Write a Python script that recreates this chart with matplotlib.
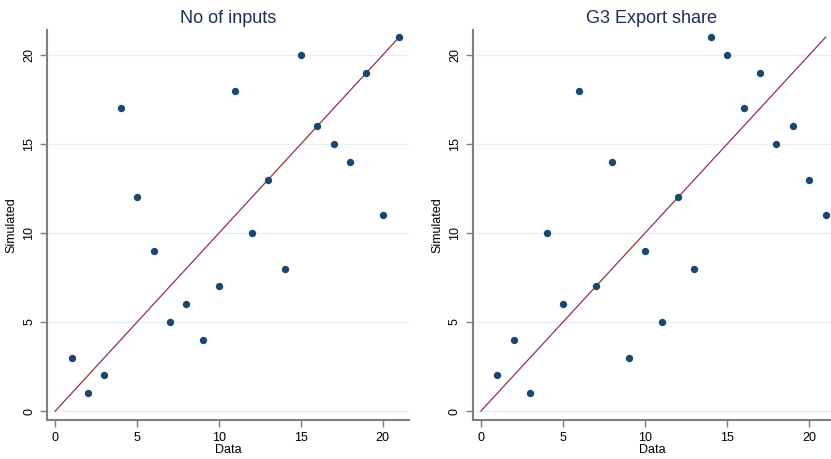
import matplotlib
matplotlib.use("Agg")
from matplotlib import pyplot as plt

plt.rcParams['font.family'] = ['Liberation Sans', 'DejaVu Sans']

# data (rank of data vs rank of simulated)
data_rank = list(range(1, 22))
sim_inputs = [3, 1, 2, 17, 12, 9, 5, 6, 4, 7, 18, 10, 13, 8, 20, 16, 15, 14, 19, 11, 21]
sim_g3 = [2, 4, 1, 10, 6, 18, 7, 14, 3, 9, 5, 12, 8, 21, 20, 17, 19, 15, 16, 13, 11]
titles = ['No of inputs', 'G3 Export share']
ticks = [0, 5, 10, 15, 20]

navy = '#1a476f'
maroon = '#90353b'
grey = '#7f7f7f'

fig = plt.figure(figsize=(8.31, 4.59), dpi=100)
ax1 = fig.add_axes([0.0566, 0.085, 0.4356, 0.8497])
ax2 = fig.add_axes([0.5688, 0.085, 0.4312, 0.8497])

for ax, sim, title, xmax in [(ax1, sim_inputs, titles[0], 21.6), (ax2, sim_g3, titles[1], 21.32)]:
    ax.plot([0, 21], [0, 21], color=maroon, lw=0.9, zorder=2)
    ax.scatter(data_rank, sim, s=28, color=navy, zorder=3, linewidths=0)
    ax.set_xlim(-0.5, xmax)
    ax.set_ylim(-0.5, 21.4)
    ax.set_xticks(ticks)
    ax.set_yticks(ticks)
    ax.yaxis.grid(True, color='#e8f0f2', lw=1)
    ax.set_axisbelow(True)
    for s in ['top', 'right']:
        ax.spines[s].set_visible(False)
    for s in ['left', 'bottom']:
        ax.spines[s].set_color(grey)
        ax.spines[s].set_linewidth(1.5)
    ax.tick_params(colors=grey, labelcolor='black', length=5, width=1, labelsize=9)
    for lab in ax.get_yticklabels():
        lab.set_rotation(90)
        lab.set_va('center')
    ax.set_title(title, color='#1c2d5a', fontsize=13, pad=5)
    ax.set_xlabel('Data', fontsize=9, labelpad=0)
    ax.set_ylabel('Simulated', fontsize=9, labelpad=1)
    ax.yaxis.set_label_coords(-0.083, 0.5)

fig.savefig('out.png', dpi=100, facecolor='white')
